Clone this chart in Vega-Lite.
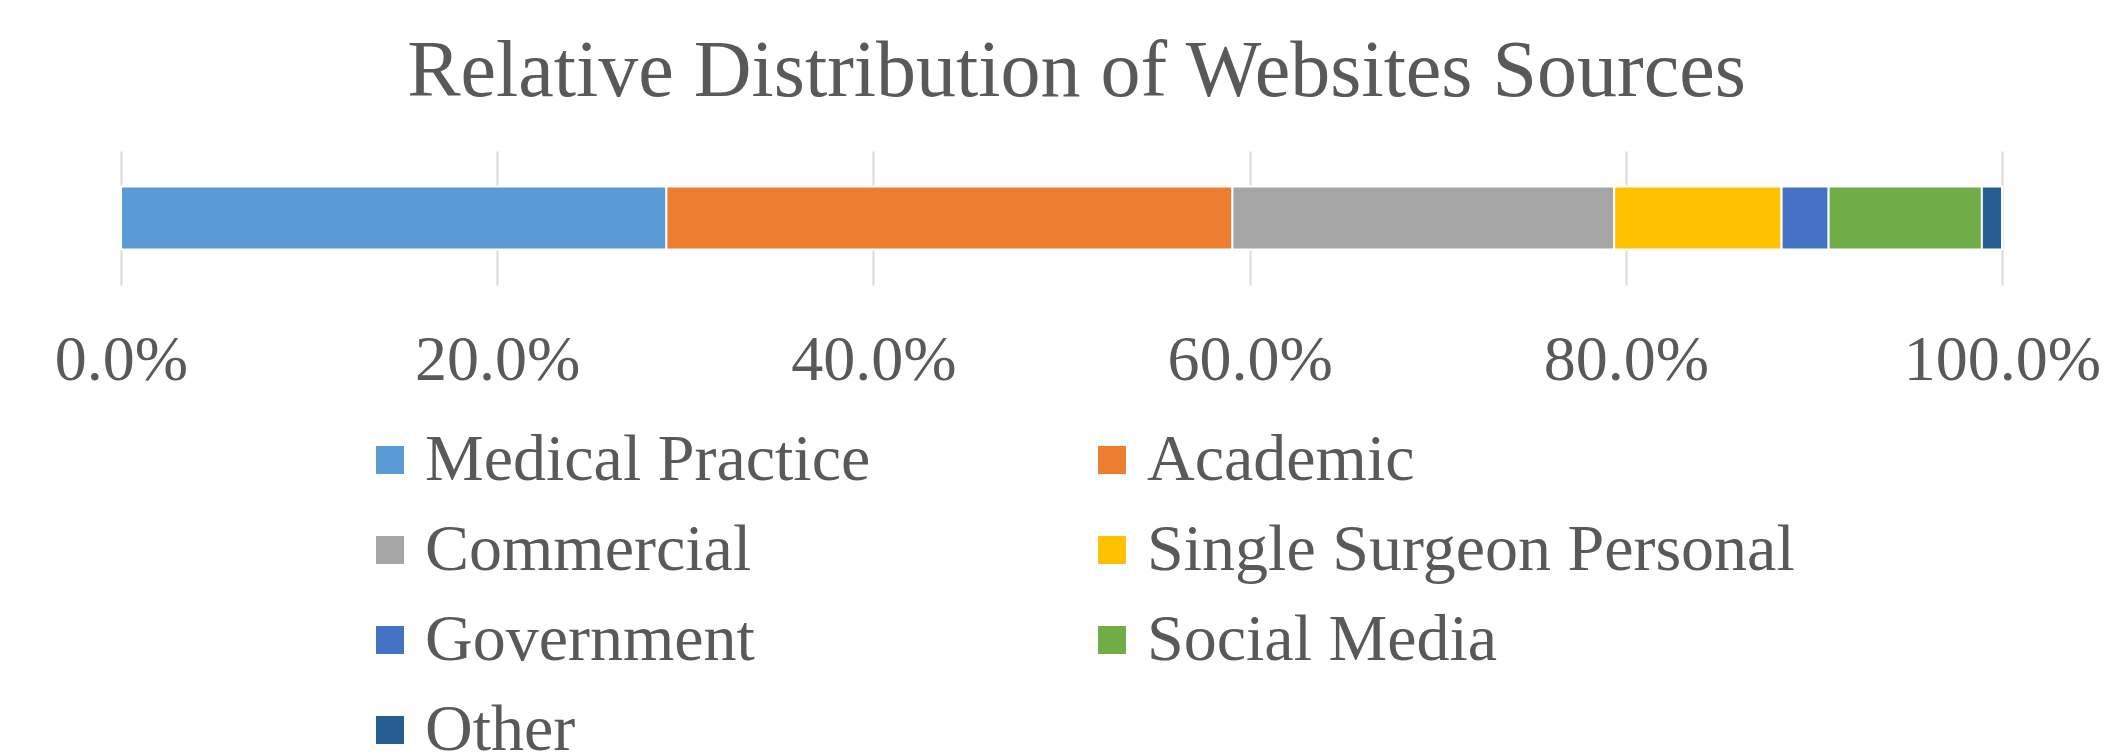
{
  "$schema": "https://vega.github.io/schema/vega-lite/v6.json",
  "width": 1881,
  "height": 134,
  "autosize": "none",
  "padding": {"left": 121, "top": 151, "right": 102, "bottom": 469},
  "background": "white",
  "title": {
    "text": "Relative Distribution of Websites Sources",
    "font": "Liberation Serif",
    "fontSize": 80,
    "fontWeight": "normal",
    "color": "#595959",
    "anchor": "middle",
    "offset": 38,
    "dx": 15
  },
  "data": {
    "values": [
      {"source": "Medical Practice", "pct": 29.0, "idx": 1},
      {"source": "Academic", "pct": 30.1, "idx": 2},
      {"source": "Commercial", "pct": 20.3, "idx": 3},
      {"source": "Single Surgeon Personal", "pct": 8.9, "idx": 4},
      {"source": "Government", "pct": 2.5, "idx": 5},
      {"source": "Social Media", "pct": 8.15, "idx": 6},
      {"source": "Other", "pct": 1.07, "idx": 7}
    ]
  },
  "mark": {"type": "bar", "size": 63, "stroke": "white", "strokeWidth": 2},
  "encoding": {
    "x": {
      "field": "pct",
      "type": "quantitative",
      "stack": "normalize",
      "scale": {"domain": [0, 1], "nice": false},
      "axis": {
        "title": null,
        "labelExpr": "format(datum.value, '.1%')",
        "values": [0, 0.2, 0.4, 0.6, 0.8, 1],
        "domain": false,
        "ticks": false,
        "grid": true,
        "gridColor": "#d9d9d9",
        "gridWidth": 2,
        "labelFont": "Liberation Serif",
        "labelFontSize": 64,
        "labelColor": "#595959",
        "labelPadding": 43,
        "labelLimit": 0,
        "labelFlush": false,
        "labelOverlap": false
      }
    },
    "color": {
      "field": "source",
      "type": "nominal",
      "sort": ["Medical Practice", "Academic", "Commercial", "Single Surgeon Personal", "Government", "Social Media", "Other"],
      "scale": {
        "domain": ["Medical Practice", "Academic", "Commercial", "Single Surgeon Personal", "Government", "Social Media", "Other"],
        "range": ["#5B9BD5", "#ED7D31", "#A5A5A5", "#FFC000", "#4472C4", "#70AD47", "#255E91"]
      },
      "legend": {
        "title": null,
        "orient": "none",
        "legendX": 236,
        "legendY": 276,
        "columns": 2,
        "direction": "horizontal",
        "symbolType": "square",
        "symbolSize": 784,
        "symbolStrokeWidth": 0,
        "labelFont": "Liberation Serif",
        "labelFontSize": 66,
        "labelColor": "#595959",
        "labelLimit": 0,
        "labelOffset": 2,
        "columnPadding": 208,
        "rowPadding": 24
      }
    },
    "order": {"field": "idx", "type": "quantitative"}
  },
  "config": {"view": {"stroke": null}}
}
